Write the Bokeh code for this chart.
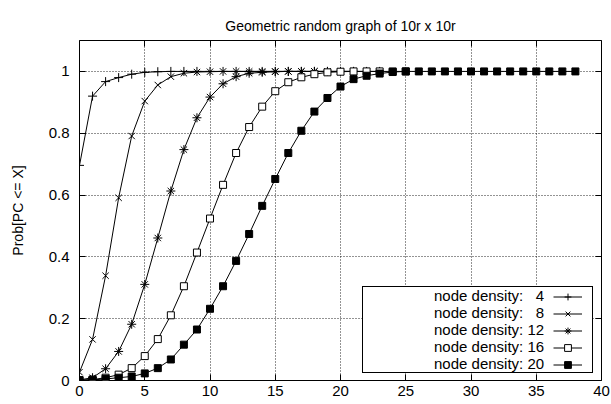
from bokeh.plotting import figure
from bokeh.models import Range1d, FixedTicker, LinearAxis, Legend, LegendItem
from bokeh.embed import file_html
from bokeh.resources import INLINE

# ---------------- data ----------------
title_text = "Geometric random graph of 10r x 10r"
y_label = "Prob[PC <= X]"

x_ticks = [0, 5, 10, 15, 20, 25, 30, 35, 40]
x_tick_labels = ["0", "5", "10", "15", "20", "25", "30", "35", "40"]
y_ticks = [0, 0.2, 0.4, 0.6, 0.8, 1.0]
y_tick_labels = ["0", "0.2", "0.4", "0.6", "0.8", "1"]

series_labels = ["node density: \u20074", "node density: \u20078", "node density: 12",
                 "node density: 16", "node density: 20"]

x4 = list(range(0, 22))
y4 = [0.696, 0.920, 0.967, 0.980, 0.991, 0.997, 0.999, 1.0, 1.0, 1.0, 1.0,
      1.0, 1.0, 1.0, 1.0, 1.0, 1.0, 1.0, 1.0, 1.0, 1.0, 1.0]

x8 = list(range(0, 22))
y8 = [0.027, 0.133, 0.339, 0.591, 0.791, 0.904, 0.956, 0.983, 0.994, 0.998,
      0.999, 1.0, 1.0, 1.0, 1.0, 1.0, 1.0, 1.0, 1.0, 1.0, 1.0, 1.0]

x12 = list(range(0, 24))
y12 = [0.002, 0.009, 0.038, 0.094, 0.182, 0.311, 0.461, 0.613, 0.747, 0.850,
       0.917, 0.960, 0.983, 0.994, 0.997, 0.999, 1.0, 1.0, 1.0, 1.0, 1.0,
       1.0, 1.0, 1.0]

x16 = list(range(0, 26))
y16 = [0.001, 0.003, 0.009, 0.019, 0.040, 0.079, 0.134, 0.211, 0.305, 0.414,
       0.524, 0.633, 0.736, 0.820, 0.886, 0.936, 0.965, 0.981, 0.991, 0.997,
       0.999, 1.0, 1.0, 1.0, 1.0, 1.0]

x20 = list(range(0, 39))
y20 = [0.001, 0.002, 0.005, 0.009, 0.013, 0.023, 0.040, 0.068, 0.116, 0.165,
       0.232, 0.305, 0.387, 0.474, 0.565, 0.652, 0.736, 0.808, 0.870, 0.914,
       0.951, 0.975, 0.986, 0.993, 0.998, 1.0, 1.0, 1.0, 1.0, 1.0, 1.0, 1.0,
       1.0, 1.0, 1.0, 1.0, 1.0, 1.0, 1.0]

FONT = "Liberation Sans"

p = figure(width=611, height=404, output_backend="svg", toolbar_location=None,
           x_range=Range1d(0, 40), y_range=Range1d(0, 1.1),
           min_border_left=79, min_border_right=10, min_border_top=40,
           min_border_bottom=24, title=title_text)

p.title.align = "center"
p.title.text_font = FONT
p.title.text_font_size = "14px"
p.title.text_font_style = "normal"
p.title.text_color = "black"
p.title.standoff = 13

p.outline_line_color = "black"
p.outline_line_width = 1
p.outline_line_alpha = 1

p.xaxis.ticker = FixedTicker(ticks=x_ticks)
p.yaxis.ticker = FixedTicker(ticks=y_ticks)
p.xaxis.major_label_overrides = {t: l for t, l in zip(x_ticks, x_tick_labels)}
p.yaxis.major_label_overrides = {t: l for t, l in zip(y_ticks, y_tick_labels)}

for ax in (p.xaxis[0], p.yaxis[0]):
    ax.axis_line_color = None
    ax.major_tick_in = 6
    ax.major_tick_out = 0
    ax.minor_tick_in = 0
    ax.minor_tick_out = 0
    ax.major_tick_line_color = "black"
    ax.major_label_text_font = FONT
    ax.major_label_text_font_size = "15px"
    ax.major_label_text_color = "black"

p.xaxis.major_label_standoff = 5
p.yaxis.major_label_standoff = 10
p.yaxis.axis_label = y_label
p.yaxis.axis_label_text_font = FONT
p.yaxis.axis_label_text_font_size = "14px"
p.yaxis.axis_label_text_font_style = "normal"
p.yaxis.axis_label_text_color = "black"
p.yaxis.axis_label_standoff = 20

top_ax = LinearAxis(ticker=FixedTicker(ticks=x_ticks),
                    major_label_overrides={t: "" for t in x_ticks})
right_ax = LinearAxis(ticker=FixedTicker(ticks=y_ticks),
                      major_label_overrides={t: "" for t in y_ticks})
for ax in (top_ax, right_ax):
    ax.axis_line_color = None
    ax.major_tick_in = 6
    ax.major_tick_out = 0
    ax.minor_tick_in = 0
    ax.minor_tick_out = 0
    ax.major_label_standoff = 0
    ax.major_tick_line_color = "black"
p.add_layout(top_ax, "above")
p.add_layout(right_ax, "right")

p.xgrid.ticker = FixedTicker(ticks=x_ticks[1:-1])
p.ygrid.ticker = FixedTicker(ticks=y_ticks[1:])
for g in (p.xgrid[0], p.ygrid[0]):
    g.grid_line_color = "black"
    g.grid_line_alpha = 0.85
    g.grid_line_dash = "1 2"
    g.grid_line_width = 1

series = [
    (x4, y4, "cross", 9, "black"),
    (x8, y8, "x", 9, "black"),
    (x12, y12, "asterisk", 9, "black"),
    (x16, y16, "square", 7, "white"),
    (x20, y20, "square", 7, "black"),
]

glyph_items = []
text_items = []
ghost = p.line(x=[], y=[], line_alpha=0)
for (xs, ys, mk, sz, fill), lab in zip(series, series_labels):
    lr = p.line(xs, ys, line_color="black", line_width=1)
    sr = p.scatter(xs, ys, marker=mk, size=sz, line_color="black",
                   fill_color=fill, line_width=1)
    glyph_items.append(LegendItem(label=" ", renderers=[lr, sr]))
    text_items.append(LegendItem(label=lab, renderers=[ghost]))

leg_text = Legend(items=text_items, location=(283, 7), padding=0, spacing=0,
                  margin=0, glyph_width=0, glyph_height=17, label_height=17,
                  label_standoff=71, label_width=158,
                  label_text_font=FONT, label_text_font_size="15px",
                  label_text_color="black", border_line_color="black",
                  border_line_width=1, border_line_alpha=1,
                  background_fill_alpha=1, click_policy="none")
leg_glyph = Legend(items=glyph_items, location=(474, 7), padding=0, spacing=0,
                   margin=0, glyph_width=29, glyph_height=17, label_height=17,
                   label_standoff=0, label_width=0,
                   label_text_font=FONT, label_text_font_size="15px",
                   border_line_alpha=0, background_fill_alpha=0)
p.add_layout(leg_text)
p.add_layout(leg_glyph)

open("out.html", "w").write(file_html(p, INLINE))
